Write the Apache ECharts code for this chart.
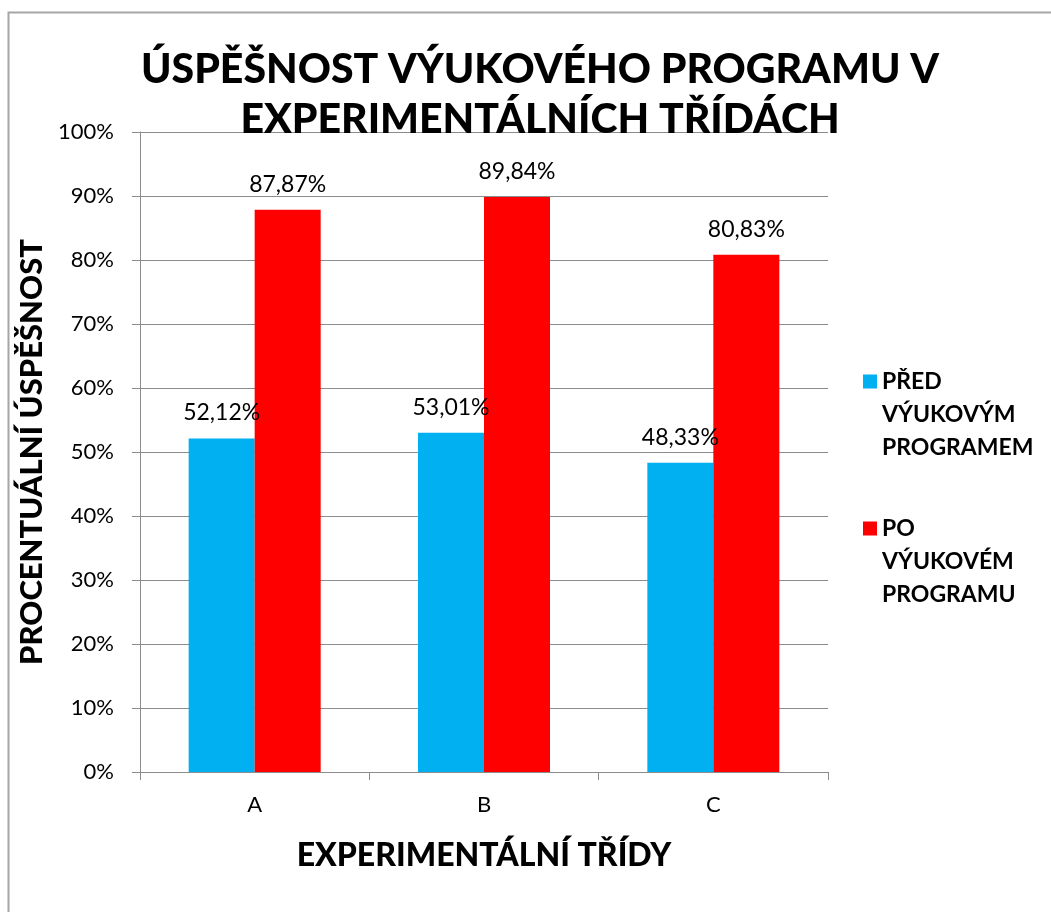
<!DOCTYPE html>
<html>
<head>
<meta charset="utf-8">
<script src="https://cdn.jsdelivr.net/npm/echarts@6/dist/echarts.min.js"></script>
<style>
    html, body { margin: 0; padding: 0; background: #fff; }
    #main { width: 1051px; height: 912px; }
</style>
</head>
<body>
<div id="main"></div>
<script>
    // data
    var categories = ['A', 'B', 'C'];
    var pred = [52.12, 53.01, 48.33];
    var po = [87.87, 89.84, 80.83];
    var seriesNames = ['PŘED VÝUKOVÝM PROGRAMEM', 'PO VÝUKOVÉM PROGRAMU'];

    var font = 'Lato, "Open Sans", sans-serif';

    function pct(p) {
        return p.value.toFixed(2).replace('.', ',') + '%';
    }

    // two empty lines in front so the icon sits beside the first line
    function legendFmt(n) {
        return '\n\n' + n.split(' ').join('\n');
    }

    var myChart = echarts.init(document.getElementById('main'));

    var legendText = {
        fontFamily: font,
        fontSize: 23,
        fontWeight: 'bold',
        color: '#000',
        lineHeight: 33
    };

    var option = {
        animation: false,
        title: {
            text: 'ÚSPĚŠNOST VÝUKOVÉHO PROGRAMU V\nEXPERIMENTÁLNÍCH TŘÍDÁCH',
            left: 535,
            textAlign: 'center',
            top: 40,
            textStyle: {
                fontFamily: font,
                fontSize: 41,
                fontWeight: 900,
                color: '#000',
                lineHeight: 50
            }
        },
        legend: [{
            data: [seriesNames[0]],
            orient: 'vertical',
            left: 858,
            top: 294,
            icon: 'rect',
            itemWidth: 14,
            itemHeight: 14,
            formatter: legendFmt,
            textStyle: legendText
        }, {
            data: [seriesNames[1]],
            orient: 'vertical',
            left: 858,
            top: 441,
            icon: 'rect',
            itemWidth: 14,
            itemHeight: 14,
            formatter: legendFmt,
            textStyle: legendText
        }],
        grid: {
            left: 140,
            right: 223,
            top: 132,
            bottom: 140
        },
        xAxis: {
            type: 'category',
            data: categories,
            name: 'EXPERIMENTÁLNÍ TŘÍDY',
            nameLocation: 'middle',
            nameGap: 68,
            nameTextStyle: {
                fontFamily: font,
                fontSize: 32,
                fontWeight: 900,
                color: '#000'
            },
            axisLine: { lineStyle: { color: '#8c8c8c', width: 1 } },
            axisTick: { show: true, length: 8, lineStyle: { color: '#8c8c8c' } },
            axisLabel: { fontFamily: font, fontSize: 22, color: '#000', margin: 22 }
        },
        yAxis: {
            type: 'value',
            min: 0,
            max: 100,
            interval: 10,
            name: 'PROCENTUÁLNÍ ÚSPĚŠNOST',
            nameLocation: 'middle',
            nameGap: 81,
            nameTextStyle: {
                fontFamily: font,
                fontSize: 31,
                fontWeight: 900,
                color: '#000'
            },
            axisLine: { show: true, lineStyle: { color: '#8c8c8c', width: 1 } },
            axisTick: { show: true, length: 8, lineStyle: { color: '#8c8c8c' } },
            splitLine: { lineStyle: { color: '#8c8c8c', width: 1 } },
            axisLabel: {
                fontFamily: font, fontSize: 22, color: '#000', margin: 26,
                formatter: '{value}%'
            }
        },
        series: [{
            name: seriesNames[0],
            type: 'bar',
            data: pred,
            barWidth: 66,
            barGap: '0%',
            itemStyle: { color: '#00B0F0' },
            label: {
                show: true, position: 'top', distance: 14,
                fontFamily: font, fontSize: 23, color: '#000',
                formatter: pct
            }
        }, {
            name: seriesNames[1],
            type: 'bar',
            data: po,
            barWidth: 66,
            barGap: '0%',
            itemStyle: { color: '#FF0000' },
            label: {
                show: true, position: 'top', distance: 14,
                fontFamily: font, fontSize: 23, color: '#000',
                formatter: pct
            }
        }],
        graphic: [{
            type: 'rect',
            left: 6,
            top: 10,
            shape: { width: 1100, height: 1000 },
            style: { fill: 'none', stroke: '#a6a6a6', lineWidth: 2 },
            silent: true,
            z: -1
        }]
    };

    myChart.setOption(option);
</script>
</body>
</html>
